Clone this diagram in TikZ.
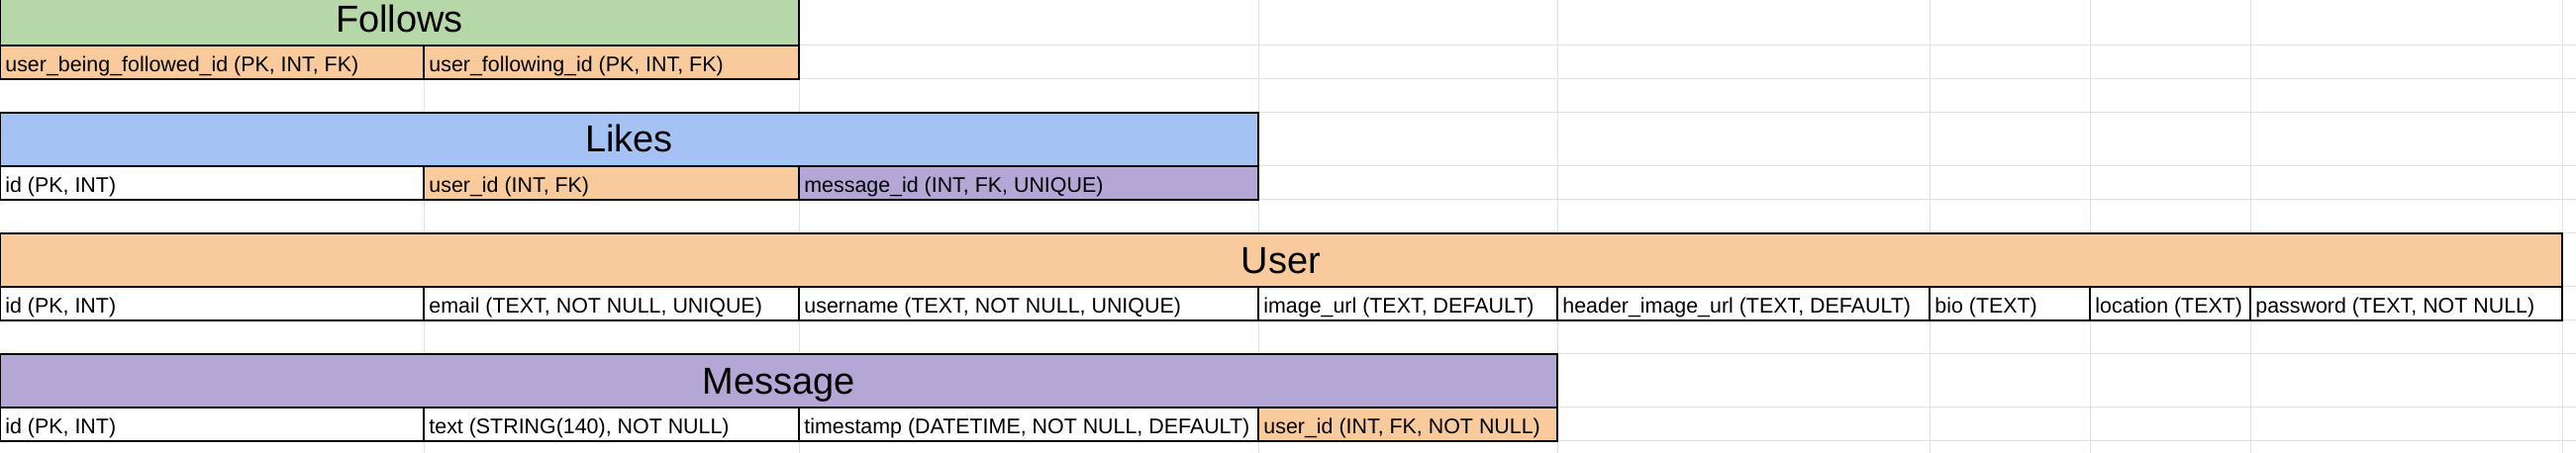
\documentclass[tikz,border=0pt]{standalone}
\usepackage{fontspec}
\setmainfont{Liberation Sans}
\definecolor{followsgreen}{HTML}{B6D7A8}
\definecolor{likesblue}{HTML}{A4C2F4}
\definecolor{keyorange}{HTML}{F9CB9C}
\definecolor{msgpurple}{HTML}{B4A7D6}
\definecolor{gridgray}{HTML}{E2E2E2}
\tikzset{
  gridline/.style={draw=gridgray,line width=0.5pt},
  cellbox/.style={draw=black,line width=1pt},
  title/.style={anchor=base,inner sep=0pt,font=\fontsize{19}{21}\selectfont},
  field/.style={anchor=base west,inner sep=0pt,font=\fontsize{10.7}{12}\selectfont},
}
\begin{document}
\begin{tikzpicture}[x=0.5pt,y=-0.5pt]
\useasboundingbox (0,0) rectangle (2602,458);
\clip (0,0) rectangle (2602,458);
% sheet grid
\foreach \x in {428,807,1271,1573,1949,2111,2273,2588} \draw[gridline] (\x,0) -- (\x,458);
\foreach \y in {46,80,114,168,202,236,290,324,358,412,446} \draw[gridline] (0,\y) -- (2602,\y);
% Follows
\draw[cellbox,fill=followsgreen] (0,-10) rectangle (807,46);
\node[title] (follows) at (403.5,33) {Follows};
\foreach \a/\b/\c/\t [count=\i] in {0/428/keyorange/{user\_being\_followed\_id (PK, INT, FK)},
  428/807/keyorange/{user\_following\_id (PK, INT, FK)}}
{\draw[cellbox,fill=\c] (\a,46) rectangle (\b,80);
 \node[field] (follows\i) at (\a+5,72.5) {\t};}
% Likes
\draw[cellbox,fill=likesblue] (0,114) rectangle (1271,168);
\node[title] (likes) at (635.5,154) {Likes};
\foreach \a/\b/\c/\t [count=\i] in {0/428/white/{id (PK, INT)},
  428/807/keyorange/{user\_id (INT, FK)},
  807/1271/msgpurple/{message\_id (INT, FK, UNIQUE)}}
{\draw[cellbox,fill=\c] (\a,168) rectangle (\b,202);
 \node[field] (likes\i) at (\a+5,194.5) {\t};}
% User
\draw[cellbox,fill=keyorange] (0,236) rectangle (2588,290);
\node[title] (user) at (1294,277) {User};
\foreach \a/\b/\c/\t [count=\i] in {0/428/white/{id (PK, INT)},
  428/807/white/{email (TEXT, NOT NULL, UNIQUE)},
  807/1271/white/{username (TEXT, NOT NULL, UNIQUE)},
  1271/1573/white/{image\_url (TEXT, DEFAULT)},
  1573/1949/white/{header\_image\_url (TEXT, DEFAULT)},
  1949/2111/white/{bio (TEXT)},
  2111/2273/white/{location (TEXT)},
  2273/2588/white/{password (TEXT, NOT NULL)}}
{\draw[cellbox,fill=\c] (\a,290) rectangle (\b,324);
 \node[field] (user\i) at (\a+5,316.5) {\t};}
% Message
\draw[cellbox,fill=msgpurple] (0,358) rectangle (1573,412);
\node[title] (message) at (786.5,399) {Message};
\foreach \a/\b/\c/\t [count=\i] in {0/428/white/{id (PK, INT)},
  428/807/white/{text (STRING(140), NOT NULL)},
  807/1271/white/{timestamp (DATETIME, NOT NULL, DEFAULT)},
  1271/1573/keyorange/{user\_id (INT, FK, NOT NULL)}}
{\draw[cellbox,fill=\c] (\a,412) rectangle (\b,446);
 \node[field] (message\i) at (\a+5,438.5) {\t};}
\end{tikzpicture}
\end{document}
